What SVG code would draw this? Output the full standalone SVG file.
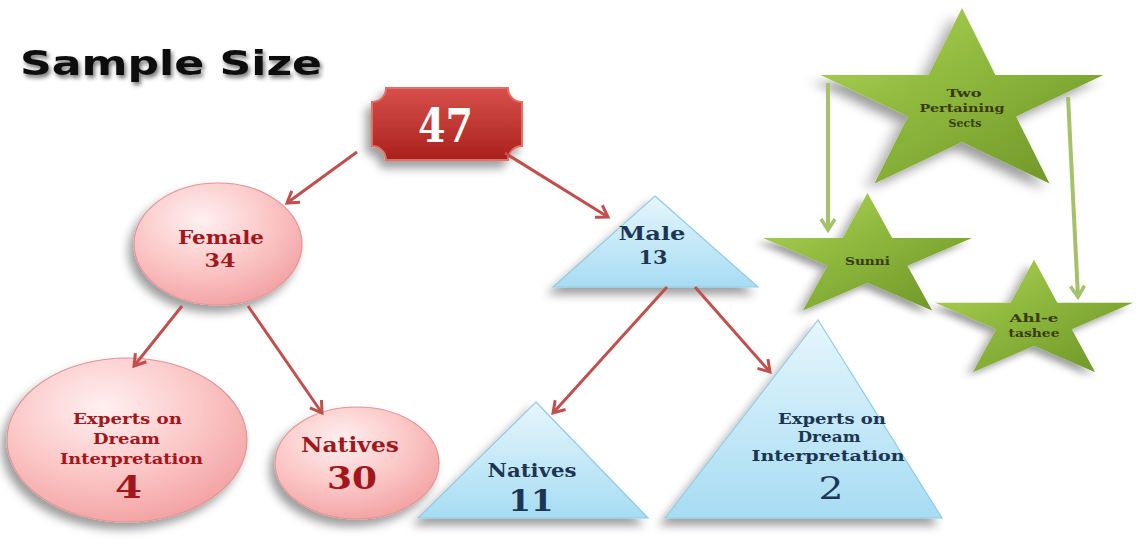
<svg xmlns="http://www.w3.org/2000/svg" width="1139" height="541" viewBox="0 0 1139 541">
<style>
.pk{font-family:"DejaVu Serif","Liberation Serif",serif;font-weight:bold;fill:#a3161c;text-anchor:middle}
.bl{font-family:"DejaVu Serif","Liberation Serif",serif;font-weight:bold;fill:#1c3553;text-anchor:middle}
.st{font-family:"DejaVu Serif","Liberation Serif",serif;font-weight:bold;fill:#3a3a10;text-anchor:middle;font-size:11px}
.red{stroke:#c0504d;stroke-width:3;fill:none;marker-end:url(#ra)}
.grn{stroke:#a5c26a;stroke-width:4;fill:none;marker-end:url(#ga)}
.pkn{fill:url(#pg);stroke:#e39494;stroke-width:1.2;filter:url(#sh)}
.bln{fill:url(#bg);stroke:#93cbe3;stroke-width:1.2;filter:url(#sh)}
.star{fill:url(#gg);filter:url(#sh)}
</style>
<defs>
<radialGradient id="pg" cx="40%" cy="30%" r="75%">
<stop offset="0" stop-color="#fff0f0"/><stop offset="0.55" stop-color="#fbc6c6"/><stop offset="1" stop-color="#f2a0a0"/>
</radialGradient>
<linearGradient id="bg" x1="0" y1="0" x2="0" y2="1">
<stop offset="0" stop-color="#e6f6fc"/><stop offset="1" stop-color="#a6dcf3"/>
</linearGradient>
<linearGradient id="rg" x1="0" y1="0" x2="0" y2="1">
<stop offset="0" stop-color="#d8504a"/><stop offset="1" stop-color="#a9201c"/>
</linearGradient>
<linearGradient id="gg" x1="0" y1="0" x2="1" y2="1">
<stop offset="0" stop-color="#b3d65a"/><stop offset="0.45" stop-color="#8db83c"/><stop offset="1" stop-color="#6c9226"/>
</linearGradient>
<filter id="sh" x="-30%" y="-30%" width="160%" height="170%">
<feDropShadow dx="-5" dy="7" stdDeviation="5" flood-color="#000" flood-opacity="0.38"/>
</filter>
<filter id="tsh" x="-10%" y="-30%" width="120%" height="170%">
<feDropShadow dx="2" dy="3" stdDeviation="2" flood-color="#000" flood-opacity="0.55"/>
</filter>
<marker id="ra" markerUnits="userSpaceOnUse" markerWidth="18" markerHeight="18" refX="13" refY="9" orient="auto">
<path d="M2,2 L13,9 L2,16" stroke="#c0504d" stroke-width="3" fill="none"/>
</marker>
<marker id="ga" markerUnits="userSpaceOnUse" markerWidth="18" markerHeight="18" refX="13" refY="9" orient="auto">
<path d="M2,2 L13,9 L2,16" stroke="#a5c26a" stroke-width="3.5" fill="none"/>
</marker>
<path id="starp" d="M0,-100 L22.45,-30.9 L95.1,-30.9 L36.3,11.8 L58.8,80.9 L0,38.2 L-58.8,80.9 L-36.3,11.8 L-95.1,-30.9 L-22.45,-30.9 Z"/>
</defs>

<text x="20" y="75" font-family="'DejaVu Sans','Liberation Sans',sans-serif" font-weight="bold" font-size="34" fill="#111" textLength="302" lengthAdjust="spacingAndGlyphs" filter="url(#tsh)">Sample Size</text>

<g id="n47">
<path d="M386,88 H508 A14,14 0 0 0 522,102 V146 A14,14 0 0 0 508,160 H386 A14,14 0 0 0 372,146 V102 A14,14 0 0 0 386,88 Z" fill="url(#rg)" stroke="#e27068" stroke-width="2" filter="url(#sh)"/>
<text x="445.5" y="142" font-family="'DejaVu Serif','Liberation Serif',serif" font-weight="bold" font-size="46" fill="#fff" text-anchor="middle" textLength="55" lengthAdjust="spacingAndGlyphs">47</text>
</g>

<g id="female">
<ellipse class="pkn" cx="218" cy="244" rx="84" ry="61"/>
<text class="pk" x="221" y="244" font-size="18.5" textLength="86" lengthAdjust="spacingAndGlyphs">Female</text>
<text class="pk" x="220" y="267" font-size="18.5" textLength="31" lengthAdjust="spacingAndGlyphs">34</text>
</g>

<g id="fexperts">
<ellipse class="pkn" cx="127" cy="440" rx="120" ry="82"/>
<text class="pk" x="127.5" y="424" font-size="15.5" textLength="109" lengthAdjust="spacingAndGlyphs">Experts on</text>
<text class="pk" x="126.5" y="444" font-size="15.5" textLength="67" lengthAdjust="spacingAndGlyphs">Dream</text>
<text class="pk" x="131.5" y="464" font-size="15.5" textLength="143" lengthAdjust="spacingAndGlyphs">Interpretation</text>
<text class="pk" x="128.5" y="498" font-size="32" textLength="27" lengthAdjust="spacingAndGlyphs">4</text>
</g>

<g id="fnatives">
<ellipse class="pkn" cx="357" cy="463" rx="82" ry="56"/>
<text class="pk" x="350" y="452" font-size="19.5" textLength="98" lengthAdjust="spacingAndGlyphs">Natives</text>
<text class="pk" x="352" y="489" font-size="32" textLength="50" lengthAdjust="spacingAndGlyphs">30</text>
</g>

<g id="male">
<polygon class="bln" points="655,196 758,287 553,287"/>
<text class="bl" x="652" y="240" font-size="18.5" textLength="67" lengthAdjust="spacingAndGlyphs">Male</text>
<text class="bl" x="653" y="264" font-size="18.5" textLength="29" lengthAdjust="spacingAndGlyphs">13</text>
</g>

<g id="mnatives">
<polygon class="bln" points="536,402 648,518 418,518"/>
<text class="bl" x="532" y="477" font-size="19" textLength="89" lengthAdjust="spacingAndGlyphs">Natives</text>
<text class="bl" x="531" y="511" font-size="29" textLength="45" lengthAdjust="spacingAndGlyphs">11</text>
</g>

<g id="mexperts">
<polygon class="bln" points="818,320 942,518 665,518"/>
<text class="bl" x="832" y="424" font-size="15" textLength="108" lengthAdjust="spacingAndGlyphs">Experts on</text>
<text class="bl" x="829" y="442" font-size="15" textLength="63" lengthAdjust="spacingAndGlyphs">Dream</text>
<text class="bl" x="828" y="461" font-size="15" textLength="153" lengthAdjust="spacingAndGlyphs">Interpretation</text>
<text x="831" y="499" font-family="'DejaVu Serif','Liberation Serif',serif" font-size="32" fill="#1c3553" text-anchor="middle" textLength="25" lengthAdjust="spacingAndGlyphs">2</text>
</g>

<g id="sects">
<use href="#starp" class="star" transform="translate(962,105) scale(1.488,0.97)"/>
<text class="st" x="964" y="97" textLength="35" lengthAdjust="spacingAndGlyphs">Two</text>
<text class="st" x="962" y="112" textLength="85" lengthAdjust="spacingAndGlyphs">Pertaining</text>
<text class="st" x="965" y="127" textLength="33" lengthAdjust="spacingAndGlyphs">Sects</text>
</g>

<g id="sunni">
<use href="#starp" class="star" transform="translate(867.5,258) scale(1.099,0.65)"/>
<text class="st" x="867.5" y="265" textLength="45" lengthAdjust="spacingAndGlyphs">Sunni</text>
</g>

<g id="ahle">
<use href="#starp" class="star" transform="translate(1034,322) scale(1.04,0.622)"/>
<text class="st" x="1034" y="322" textLength="49" lengthAdjust="spacingAndGlyphs">Ahl-e</text>
<text class="st" x="1034" y="337" textLength="51" lengthAdjust="spacingAndGlyphs">tashee</text>
</g>

<g id="connectors">
<line class="red" x1="357" y1="152" x2="287" y2="203"/>
<line class="red" x1="505" y1="153" x2="608" y2="217"/>
<line class="red" x1="182" y1="306" x2="134" y2="366"/>
<line class="red" x1="248" y1="306" x2="322" y2="413"/>
<line class="red" x1="667" y1="287" x2="553" y2="413"/>
<line class="red" x1="695" y1="287" x2="770" y2="372"/>
<line class="grn" x1="828" y1="83" x2="828" y2="230"/>
<line class="grn" x1="1068" y1="97" x2="1078" y2="297"/>
</g>
</svg>
